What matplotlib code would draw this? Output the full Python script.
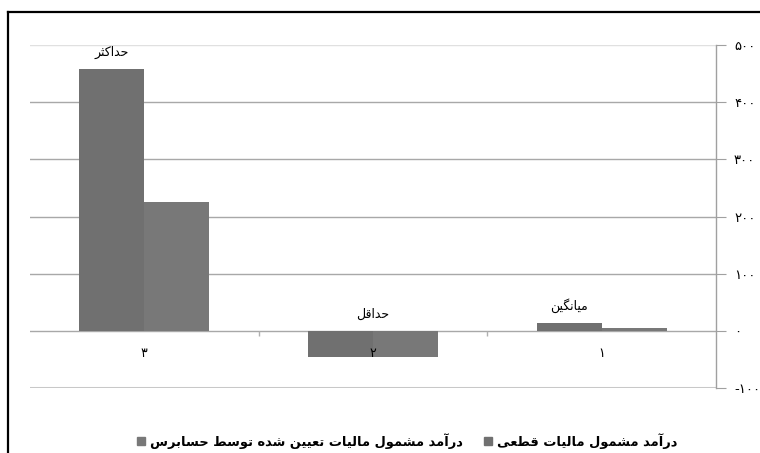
import matplotlib
matplotlib.use("Agg")
import matplotlib.pyplot as plt
from matplotlib.lines import Line2D
from matplotlib.patches import Rectangle

plt.rcParams['font.family'] = ['DejaVu Sans']

# ---------------- data ----------------
categories = ["۱", "۲", "۳"]                     # shown right-to-left
cat_names = ["میانگین", "حداقل", "حداکثر"]
series_names = ["درآمد مشمول مالیات قطعی",
                "درآمد مشمول مالیات تعیین شده توسط حسابرس"]
qatei = [14, -45, 458]
hesabres = [5, -45, 225]
y_ticks = [-100, 0, 100, 200, 300, 400, 500]
y_tick_labels = ["-۱۰۰", "۰", "۱۰۰", "۲۰۰", "۳۰۰", "۴۰۰", "۵۰۰"]

# ---------------- simple Arabic/Persian shaping ----------------
FORMS = {  # isolated, final, initial, medial
    'ا': ('\uFE8D', '\uFE8E', None, None),
    'آ': ('\uFE81', '\uFE82', None, None),
    'ب': ('\uFE8F', '\uFE90', '\uFE91', '\uFE92'),
    'ت': ('\uFE95', '\uFE96', '\uFE97', '\uFE98'),
    'ث': ('\uFE99', '\uFE9A', '\uFE9B', '\uFE9C'),
    'ح': ('\uFEA1', '\uFEA2', '\uFEA3', '\uFEA4'),
    'د': ('\uFEA9', '\uFEAA', None, None),
    'ر': ('\uFEAD', '\uFEAE', None, None),
    'س': ('\uFEB1', '\uFEB2', '\uFEB3', '\uFEB4'),
    'ش': ('\uFEB5', '\uFEB6', '\uFEB7', '\uFEB8'),
    'ط': ('\uFEC1', '\uFEC2', '\uFEC3', '\uFEC4'),
    'ع': ('\uFEC9', '\uFECA', '\uFECB', '\uFECC'),
    'ق': ('\uFED5', '\uFED6', '\uFED7', '\uFED8'),
    'ل': ('\uFEDD', '\uFEDE', '\uFEDF', '\uFEE0'),
    'م': ('\uFEE1', '\uFEE2', '\uFEE3', '\uFEE4'),
    'ن': ('\uFEE5', '\uFEE6', '\uFEE7', '\uFEE8'),
    'ه': ('\uFEE9', '\uFEEA', '\uFEEB', '\uFEEC'),
    'و': ('\uFEED', '\uFEEE', None, None),
    'ک': ('\uFB8E', '\uFB8F', '\uFB90', '\uFB91'),
    'گ': ('\uFB92', '\uFB93', '\uFB94', '\uFB95'),
    'ی': ('\uFBFC', '\uFBFD', '\uFBFE', '\uFBFF'),
}


def dual(c):
    return c in FORMS and FORMS[c][2] is not None


def shape(text):
    out = []
    n = len(text)
    for i, c in enumerate(text):
        if c not in FORMS:
            out.append(c)
            continue
        prev = text[i - 1] if i > 0 else ''
        nxt = text[i + 1] if i + 1 < n else ''
        jp = dual(prev)
        jn = dual(c) and (nxt in FORMS)
        iso, fin, ini, med = FORMS[c]
        if jp and jn:
            out.append(med)
        elif jp:
            out.append(fin)
        elif jn:
            out.append(ini)
        else:
            out.append(iso)
    return ''.join(out)[::-1]


# ---------------- figure ----------------
W, H = 760, 453
fig = plt.figure(figsize=(W / 100, H / 100), dpi=100)
ax = fig.add_axes([30 / W, 65 / H, 686 / W, 343 / H])

x = list(range(len(categories)))
bw = 0.284
c1, c2 = '#707070', '#787878'
ax.bar([i + bw / 2 for i in x], qatei, width=bw, color=c1, zorder=3)
ax.bar([i - bw / 2 for i in x], hesabres, width=bw, color=c2, zorder=3)

ax.set_xlim(len(categories) - 0.5, -0.5)
ax.set_ylim(-100, 500)

# gridlines
for v in y_ticks:
    if v == -100:
        ax.axhline(v, color='#c8c8c8', lw=2.2, zorder=1)
    elif v == 500:
        ax.axhline(v, color='#e0e0e0', lw=1, zorder=1)
    else:
        ax.axhline(v, color='#a8a8a8', lw=1, zorder=1)

# category boundary ticks on zero line
ax.vlines([i + 0.5 for i in x[:-1]], -9, 0, color='#b0b0b0', lw=1, zorder=2)

for s in ['top', 'left', 'bottom']:
    ax.spines[s].set_visible(False)
ax.spines['right'].set_color('#a0a0a0')
ax.spines['right'].set_linewidth(1)
ax.yaxis.tick_right()
ax.set_yticks(y_ticks)
ax.set_yticklabels(y_tick_labels)
ax.tick_params(axis='y', length=7, color='#a0a0a0', pad=6, labelsize=9.5)
ax.set_xticks([])

# category numbers below zero line
for i, lab in enumerate(categories):
    ax.annotate(lab, xy=(i, 0), xytext=(0, -16), textcoords='offset pixels',
                ha='center', va='top', fontsize=9)

# category names above bars
for i, name in enumerate(cat_names):
    top = max(qatei[i], 0)
    xi = i + bw / 2 if qatei[i] > 0 else i
    ax.annotate(shape(name), xy=(xi, top), xytext=(0, 10),
                textcoords='offset pixels', ha='center', va='bottom',
                fontsize=9)

# frame of chart area
fig.add_artist(Line2D([8 / W, 8 / W], [0, 1 - 11.5 / H], color='black',
                      lw=1.6, transform=fig.transFigure))
fig.add_artist(Line2D([8 / W, 1], [1 - 11.5 / H, 1 - 11.5 / H], color='black',
                      lw=1.6, transform=fig.transFigure))

# legend (manual, RTL)
ly = 1 - 441 / H
entries = [(series_names[0], c1, 488), (series_names[1], c2, 141)]
for name, col, sx in entries:
    fig.add_artist(Rectangle(((sx - 4) / W, ly - 4 / H), 8 / W, 8 / H,
                             color=col, transform=fig.transFigure))
    fig.text((sx + 9) / W, ly, shape(name), ha='left', va='center',
             fontsize=9.4, fontweight='bold')

fig.savefig('out.png', dpi=100)
